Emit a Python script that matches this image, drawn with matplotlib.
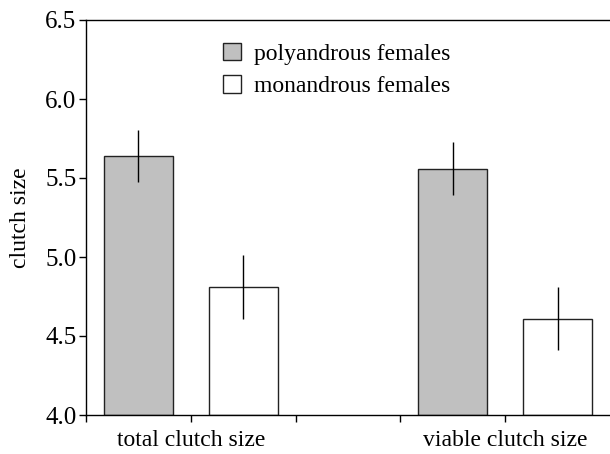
import matplotlib
matplotlib.use("Agg")
import matplotlib.pyplot as plt
import numpy as np

plt.rcParams['font.family'] = ['Liberation Serif', 'DejaVu Serif']

groups = ['total clutch size', 'viable clutch size']
poly_mean = [5.64, 5.56]
poly_err = [0.165, 0.17]
mono_mean = [4.81, 4.61]
mono_err = [0.20, 0.20]
series_names = ['polyandrous females', 'monandrous females']

fig = plt.figure(figsize=(6.10, 4.54), dpi=100)
ax = fig.add_axes([86/610, 1 - 415/454, 524/610, 395/454])

base = 4.0
pos_poly = np.array([0.5, 3.5])
pos_mono = np.array([1.5, 4.5])
w = 0.66

ax.bar(pos_poly, np.array(poly_mean) - base, w, bottom=base, color='#c0c0c0',
       edgecolor='#222222', linewidth=1.0, label=series_names[0])
ax.bar(pos_mono, np.array(mono_mean) - base, w, bottom=base, color='white',
       edgecolor='#222222', linewidth=1.0, label=series_names[1])
ax.errorbar(pos_poly, poly_mean, yerr=poly_err, fmt='none', ecolor='black', elinewidth=1.0, capsize=0)
ax.errorbar(pos_mono, mono_mean, yerr=mono_err, fmt='none', ecolor='black', elinewidth=1.0, capsize=0)

ax.set_xlim(0, 5)
ax.set_ylim(4.0, 6.5)
ax.set_yticks([4.0, 4.5, 5.0, 5.5, 6.0, 6.5])
ax.set_yticklabels(['4.0', '4.5', '5.0', '5.5', '6.0', '6.5'], fontsize=18)
ax.set_xticks([0, 1, 2, 3, 4])
ax.set_xticklabels(['', groups[0], '', '', groups[1]], fontsize=17)
ax.tick_params(axis='both', direction='out', length=5, width=1, colors='black')
ax.tick_params(axis='y', pad=2)
ax.tick_params(axis='x', pad=6)
ax.set_ylabel('clutch size', fontsize=17, labelpad=10)

ax.spines['right'].set_visible(False)
for s in ['left', 'bottom', 'top']:
    ax.spines[s].set_linewidth(1.0)

ax.legend(loc='upper left', bbox_to_anchor=(0.2615, 0.942), frameon=False, fontsize=17,
          handlelength=0.75, handleheight=0.75, handletextpad=0.55, labelspacing=0.45,
          borderpad=0, borderaxespad=0)

fig.savefig('out.png', dpi=100)
